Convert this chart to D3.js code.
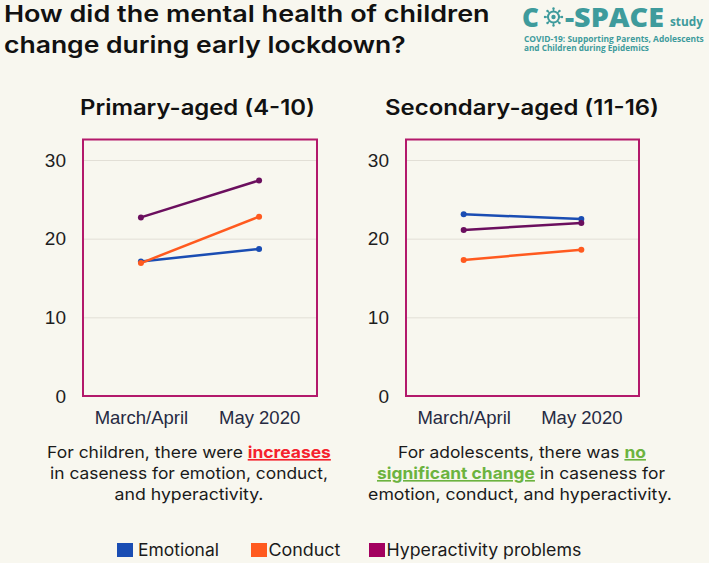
<!DOCTYPE html>
<html>
<head>
<meta charset="utf-8">
<script src="https://cdn.jsdelivr.net/npm/d3@7"></script>
<style>
  html, body { margin: 0; padding: 0; background: #f8f7ef; }
  svg { display: block; }
</style>
</head>
<body>
<svg id="chart" width="709" height="563"></svg>
<script>
// ---------- DATA ----------
const categories = ["March/April", "May 2020"];
const seriesNames = ["Emotional", "Conduct", "Hyperactivity problems"];
const yTicks = [0, 10, 20, 30];

const primaryEmotional = [17.1, 18.7];
const primaryConduct = [16.9, 22.8];
const primaryHyperactivity = [22.7, 27.4];

const secondaryEmotional = [23.1, 22.5];
const secondaryConduct = [17.3, 18.6];
const secondaryHyperactivity = [21.1, 22.0];

const titleLines = ["How did the mental health of children", "change during early lockdown?"];
const panelTitles = ["Primary-aged (4-10)", "Secondary-aged (11-16)"];

// ---------- STYLE ----------
const lineColors = ["#1a4db3", "#ff5a1f", "#6b0f5e"];
const legendColors = ["#1a4db3", "#ff5a1f", "#a3005f"];
const frameColor = "#b3196b";
const teal = "#3e9b9c";
const titleFont = "Inter, 'Open Sans', sans-serif";
const axisFont = "'Liberation Sans', Arial, sans-serif";

const svg = d3.select("#chart");

// stretch text horizontally (about its anchor x) so it spans the target width
function fitStretch(sel, target) {
  const node = sel.node();
  const w = node.getComputedTextLength();
  const k = target / w;
  const x = +sel.attr("x");
  sel.attr("transform", `translate(${x},0) scale(${k},1) translate(${-x},0)`);
  return k;
}
function fitSpacing(sel, target) {
  const node = sel.node();
  const w = node.getComputedTextLength();
  const n = node.textContent.length;
  sel.attr("letter-spacing", (target - w) / n);
}

// ---------- TITLE ----------
const t1 = svg.append("text").attr("x", 4).attr("y", 22.5)
  .attr("font-family", titleFont).attr("font-weight", 600)
  .attr("font-size", 22.5).attr("fill", "#111").text(titleLines[0]);
const tk = fitStretch(t1, 486);
const t2 = svg.append("text").attr("x", 4).attr("y", 53.5)
  .attr("font-family", titleFont).attr("font-weight", 600)
  .attr("font-size", 22.5).attr("fill", "#111").text(titleLines[1]);
fitStretch(t2, 402);

// ---------- LOGO ----------
const logo = svg.append("g");
logo.append("text").attr("x", 522).attr("y", 26.5)
  .attr("font-family", "'Open Sans', sans-serif").attr("font-weight", 800)
  .attr("font-size", 26).attr("fill", teal).text("C");
// virus icon
const vx = 553.5, vy = 17;
logo.append("circle").attr("cx", vx).attr("cy", vy).attr("r", 5.5)
  .attr("fill", "none").attr("stroke", teal).attr("stroke-width", 2);
logo.append("circle").attr("cx", vx).attr("cy", vy).attr("r", 2.2).attr("fill", teal);
d3.range(8).forEach(i => {
  const a = i * Math.PI / 4;
  logo.append("line")
    .attr("x1", vx + Math.cos(a) * 5.5).attr("y1", vy + Math.sin(a) * 5.5)
    .attr("x2", vx + Math.cos(a) * 8).attr("y2", vy + Math.sin(a) * 8)
    .attr("stroke", teal).attr("stroke-width", 1.4);
  logo.append("circle")
    .attr("cx", vx + Math.cos(a) * 8.5).attr("cy", vy + Math.sin(a) * 8.5)
    .attr("r", 1.2).attr("fill", teal);
});
const space = logo.append("text").attr("x", 565).attr("y", 26.5)
  .attr("font-family", "'Open Sans', sans-serif").attr("font-weight", 800)
  .attr("font-size", 26).attr("fill", teal).text("-SPACE");
fitStretch(space, 99);
logo.append("text").attr("x", 670).attr("y", 26.5)
  .attr("font-family", "'Open Sans', sans-serif").attr("font-weight", 700)
  .attr("font-size", 13).attr("fill", teal).text("study")
  .call(s => fitStretch(s, 33));
logo.append("text").attr("x", 524).attr("y", 42.5)
  .attr("font-family", "'Open Sans', sans-serif").attr("font-weight", 700)
  .attr("font-size", 8.6).attr("fill", teal).text("COVID-19: Supporting Parents, Adolescents")
  .call(s => fitStretch(s, 180));
logo.append("text").attr("x", 524).attr("y", 51.5)
  .attr("font-family", "'Open Sans', sans-serif").attr("font-weight", 700)
  .attr("font-size", 8.6).attr("fill", teal).text("and Children during Epidemics")
  .call(s => fitStretch(s, 125));

// ---------- PANELS ----------
const panels = [
  { x0: 83, x1: 317, headingX: 197.5, headingW: 235, textX: 189,
    series: [primaryEmotional, primaryConduct, primaryHyperactivity] },
  { x0: 406, x1: 639, headingX: 522, headingW: 274, textX: 521,
    series: [secondaryEmotional, secondaryConduct, secondaryHyperactivity] }
];
const frameTop = 139.5, yBottom = 396, y30 = 160;
const y = d3.scaleLinear().domain([0, 30]).range([yBottom, y30]);

panels.forEach((p, pi) => {
  const g = svg.append("g");
  // heading
  const h = g.append("text").attr("x", p.headingX).attr("y", 115)
    .attr("text-anchor", "middle").attr("font-family", titleFont).attr("font-weight", 600)
    .attr("font-size", 21).attr("fill", "#111").text(panelTitles[pi]);
  fitStretch(h, p.headingW);

  const x = d3.scalePoint().domain(categories).range([p.x0, p.x1]).padding(0.49);

  // gridlines + y labels
  const yAxis = d3.axisLeft(y).tickValues(yTicks).tickSize(-(p.x1 - p.x0)).tickPadding(17);
  const ya = g.append("g").attr("transform", `translate(${p.x0},0)`).call(yAxis);
  ya.select(".domain").remove();
  ya.selectAll(".tick line").attr("stroke", "#e2dfd6").attr("stroke-width", 1);
  ya.selectAll(".tick text").attr("font-family", axisFont).attr("font-size", 19)
    .attr("fill", "#1e1e1e");

  // frame
  g.append("rect").attr("x", p.x0).attr("y", frameTop)
    .attr("width", p.x1 - p.x0).attr("height", yBottom - frameTop)
    .attr("fill", "none").attr("stroke", frameColor).attr("stroke-width", 2);

  // x axis labels
  const xAxis = d3.axisBottom(x).tickSize(0).tickPadding(0);
  const xa = g.append("g").attr("transform", `translate(0,${yBottom})`).call(xAxis);
  xa.select(".domain").remove();
  xa.selectAll(".tick text").attr("font-family", axisFont).attr("font-size", 18.5)
    .attr("fill", "#262a42").attr("dy", null).attr("y", 28);

  // lines
  const line = d3.line().x((d, i) => x(categories[i])).y(d => y(d));
  p.series.forEach((vals, si) => {
    g.append("path").datum(vals).attr("d", line)
      .attr("fill", "none").attr("stroke", lineColors[si]).attr("stroke-width", 2.5);
    g.selectAll(null).data(vals).enter().append("circle")
      .attr("cx", (d, i) => x(categories[i])).attr("cy", d => y(d))
      .attr("r", 3).attr("fill", lineColors[si]);
  });
});

// ---------- BODY TEXT ----------
const bodyFont = titleFont;
const bodySize = 16.5;
function richLine(cx, yy, parts, target) {
  const t = svg.append("text").attr("x", cx).attr("y", yy).attr("text-anchor", "middle")
    .attr("font-family", bodyFont).attr("font-size", bodySize).attr("fill", "#1a1a1a");
  parts.forEach(pt => {
    const ts = t.append("tspan").text(pt.t);
    if (pt.c) ts.attr("fill", pt.c).attr("font-weight", 700).attr("text-decoration", "underline");
  });
  if (target) fitStretch(t, target);
  return t;
}
const red = "#f5222d", green = "#6cb33f";
richLine(189, 458, [{ t: "For children, there were " }, { t: "increases", c: red }], 284);
richLine(189, 479, [{ t: "in caseness for emotion, conduct," }], 278);
richLine(189, 500, [{ t: "and hyperactivity." }], 149);
richLine(522, 458, [{ t: "For adolescents, there was " }, { t: "no", c: green }], 248);
richLine(521, 479, [{ t: "significant change", c: green }, { t: " in caseness for" }], 288);
richLine(520, 500, [{ t: "emotion, conduct, and hyperactivity." }], 304);

// ---------- LEGEND ----------
const legendX = [117, 251, 369];
const legendW = [81, 72, 195];
seriesNames.forEach((name, i) => {
  svg.append("rect").attr("x", legendX[i]).attr("y", 543).attr("width", 16).attr("height", 14)
    .attr("fill", legendColors[i]);
  const lt = svg.append("text").attr("x", legendX[i] + (i === 0 ? 21 : 17.5)).attr("y", 556)
    .attr("font-family", bodyFont).attr("font-size", 17).attr("fill", "#1a1a1a").text(name);
  fitStretch(lt, legendW[i]);
});
</script>
</body>
</html>
